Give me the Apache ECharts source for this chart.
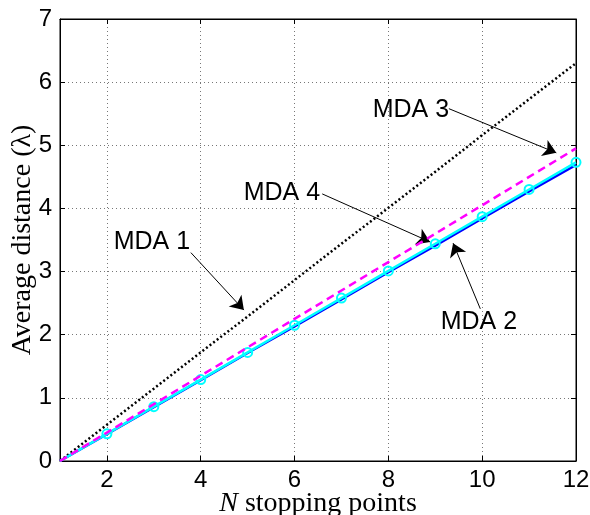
<!DOCTYPE html>
<html>
<head>
<meta charset="utf-8">
<script src="https://cdn.jsdelivr.net/npm/echarts@6/dist/echarts.min.js"></script>
<style>html,body{margin:0;padding:0;background:#fff}#c{width:590px;height:515px}</style>
</head>
<body>
<div id="c"></div>
<script>
const nPoints = [1, 2, 3, 4, 5, 6, 7, 8, 9, 10, 11, 12];
const mda1 = [0, 0.573, 1.146, 1.72, 2.29, 2.865, 3.44, 4.01, 4.58, 5.16, 5.73, 6.30];
const mda2 = [0, 0.426, 0.853, 1.28, 1.71, 2.13, 2.56, 2.99, 3.41, 3.84, 4.27, 4.69];
const mda3 = [0, 0.45, 0.90, 1.35, 1.80, 2.25, 2.70, 3.15, 3.60, 4.05, 4.50, 4.95];
const mda4 = [0, 0.43, 0.86, 1.29, 1.72, 2.15, 2.58, 3.01, 3.44, 3.87, 4.30, 4.73];
const xTicks = [2, 4, 6, 8, 10, 12];
const yTicks = [0, 1, 2, 3, 4, 5, 6, 7];
const annoNames = ['MDA 1', 'MDA 2', 'MDA 3', 'MDA 4'];
const annoText = [[2.96, 3.47], [9.93, 2.20], [8.48, 5.56], [5.73, 4.25]];
const arrowFrom = [[3.79, 3.30], [9.96, 2.41], [9.29, 5.58], [6.59, 4.23]];
const arrowTo = [[4.92, 2.39], [9.38, 3.45], [11.58, 4.88], [8.89, 3.47]];

const pairs = (ys) => nPoints.map((x, i) => [x, ys[i]]);
const tickFont = {fontFamily: 'Liberation Sans', fontSize: 24, color: '#000'};
const gridLine = {show: true, lineStyle: {color: '#777', width: 1, type: [1, 3]}};

const chart = echarts.init(document.getElementById('c'), null, {renderer: 'canvas'});
chart.setOption({
  animation: false,
  backgroundColor: '#fff',
  grid: {left: 60, right: 14, top: 19, bottom: 54, show: true, borderColor: '#000', borderWidth: 1,
         backgroundColor: 'transparent', containLabel: false, outerBoundsMode: 'none'},
  xAxis: [{
    type: 'value', min: 1, max: 12, position: 'bottom',
    name: '{i|N} stopping points', nameLocation: 'middle', nameGap: 28.5, nameMoveOverlap: false,
    nameTextStyle: {fontFamily: 'Liberation Serif', fontSize: 28, color: '#000',
      rich: {i: {fontFamily: 'Liberation Serif', fontStyle: 'italic', fontSize: 28, color: '#000'}}},
    axisLine: {show: true, lineStyle: {color: '#000', width: 1}},
    axisTick: {show: true, inside: true, length: 5, customValues: xTicks, lineStyle: {color: '#000'}},
    axisLabel: {show: true, margin: 7, customValues: xTicks, ...tickFont},
    splitLine: gridLine
  }, {
    type: 'value', min: 1, max: 12, position: 'top',
    axisLine: {show: true, onZero: false, lineStyle: {color: '#000', width: 1}},
    axisTick: {show: true, inside: true, length: 5, customValues: xTicks, lineStyle: {color: '#000'}},
    axisLabel: {show: false}, splitLine: {show: false}
  }],
  yAxis: [{
    type: 'value', min: 0, max: 7, interval: 1, position: 'left',
    name: 'Average distance (λ)', nameLocation: 'middle', nameGap: 23, nameMoveOverlap: false,
    nameTextStyle: {fontFamily: 'Liberation Serif', fontSize: 28, color: '#000'},
    axisLine: {show: true, lineStyle: {color: '#000', width: 1}},
    axisTick: {show: true, inside: true, length: 5, lineStyle: {color: '#000'}},
    axisLabel: {show: true, margin: 8, ...tickFont},
    splitLine: gridLine
  }, {
    type: 'value', min: 0, max: 7, interval: 1, position: 'right',
    axisLine: {show: true, onZero: false, lineStyle: {color: '#000', width: 1}},
    axisTick: {show: true, inside: true, length: 5, lineStyle: {color: '#000'}},
    axisLabel: {show: false}, splitLine: {show: false}
  }],
  series: [
    {name: 'MDA 1', type: 'line', data: pairs(mda1), showSymbol: false, symbol: 'none',
     lineStyle: {color: '#000', width: 2.5, type: [2, 2.5]}, z: 3},
    {name: 'MDA 2', type: 'line', data: pairs(mda2), showSymbol: false, symbol: 'none',
     lineStyle: {color: '#0000ff', width: 2.5}, z: 4},
    {name: 'MDA 4', type: 'line',
     data: pairs(mda4).map((p, i) => i === 0 ? {value: p, symbol: 'none'} : {value: p}),
     symbol: 'circle', symbolSize: 9, showSymbol: true,
     itemStyle: {color: 'rgba(255,255,255,0)', borderColor: '#00ffff', borderWidth: 2},
     lineStyle: {color: '#00ffff', width: 2.5}, z: 5},
    {name: 'MDA 3', type: 'line', data: pairs(mda3), showSymbol: false, symbol: 'none',
     lineStyle: {color: '#ff00ff', width: 2.5, type: [8, 5]}, z: 6},
    {name: 'labels', type: 'scatter', symbolSize: 0, silent: true, z: 10,
     itemStyle: {opacity: 1},
     data: annoNames.map((n, i) => ({name: n, value: annoText[i]})),
     label: {show: true, position: 'inside', formatter: '{b}', fontFamily: 'Liberation Sans', fontSize: 25, color: '#000', opacity: 1},
     markLine: {
       silent: true, symbol: ['none', 'arrow'], symbolSize: 13, precision: 4,
       lineStyle: {color: '#000', width: 1, type: 'solid', opacity: 1},
       label: {show: false},
       data: arrowFrom.map((a, i) => [{coord: a}, {coord: arrowTo[i]}])
     }}
  ]
});
</script>
</body>
</html>
